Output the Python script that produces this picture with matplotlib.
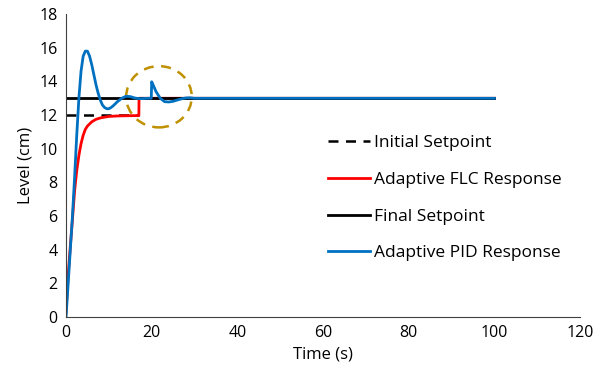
import matplotlib
matplotlib.use("Agg")
import matplotlib.pyplot as plt
from matplotlib.patches import Ellipse

plt.rcParams['font.family'] = ['Open Sans', 'DejaVu Sans']

# initial / final setpoints
init_t = [0, 17]
init_y = [12, 12]
final_t = [0, 100]
final_y = [13, 13]

# adaptive FLC response
flc_t = [0, 0.5, 1, 1.5, 2, 2.5, 3, 3.5, 4, 4.5, 5, 6, 7, 8, 9, 10, 12, 14, 16, 17, 17.05, 100]
flc_y = [0.3, 2.5, 4.2, 5.8, 7.5, 8.7, 9.6, 10.3, 10.8, 11.15, 11.35, 11.6, 11.75, 11.83, 11.88,
         11.92, 11.95, 11.96, 11.97, 11.97, 13, 13]

# adaptive PID response
pid_t = [0, 0.5, 1, 1.5, 2, 2.5, 3, 3.5, 4, 4.5, 5, 5.5, 6, 6.5, 7, 7.5, 8, 8.5, 9, 9.5, 10,
         10.5, 11, 12, 13, 14, 15, 16, 17, 18, 19, 19.9, 20, 20.5, 21, 22, 23, 24, 25, 26, 27,
         28, 29, 30, 100]
pid_y = [0, 2, 4, 6, 8.3, 10.8, 13, 14.6, 15.5, 15.8, 15.8, 15.5, 15.0, 14.4, 13.8, 13.3, 12.9,
         12.6, 12.45, 12.38, 12.38, 12.45, 12.55, 12.8, 13.0, 13.12, 13.1, 13.02, 12.98, 12.98,
         13.0, 13.0, 13.98, 13.7, 13.4, 13.0, 12.8, 12.78, 12.82, 12.9, 12.97, 13.02, 13.03,
         13.0, 13.0]

fig = plt.figure(figsize=(5.97, 3.82), dpi=100)
ax = fig.add_axes([0.1106, 0.170, 0.861, 0.793])

ax.plot(init_t, init_y, color='black', linestyle=(0, (4, 3)), linewidth=1.8, label='Initial Setpoint')
ax.plot(flc_t, flc_y, color='#FF0000', linewidth=2, label='Adaptive FLC Response')
ax.plot(final_t, final_y, color='black', linewidth=2, label='Final Setpoint')
ax.plot(pid_t, pid_y, color='#0070C0', linewidth=2, label='Adaptive PID Response')

ax.add_patch(Ellipse((21.7, 13.09), 15.3, 3.64, fill=False, edgecolor='#BF9000',
                     linestyle=(0, (4, 3)), linewidth=1.8))

ax.set_xlim(0, 120)
ax.set_ylim(0, 18)
ax.set_xticks(range(0, 121, 20))
ax.set_yticks(range(0, 19, 2))
ax.tick_params(length=0, labelsize=11.5, pad=6)
ax.spines['top'].set_visible(False)
ax.spines['right'].set_visible(False)
ax.spines['left'].set_color('#404040')
ax.spines['bottom'].set_color('#404040')
ax.set_xlabel('Time (s)', fontsize=12)
ax.set_ylabel('Level (cm)', fontsize=12)

ax.legend(loc='upper left', bbox_to_anchor=(0.48, 0.652), frameon=False, fontsize=12.5,
          labelspacing=1.18, handlelength=2.4, handletextpad=0.2)

fig.savefig('out.png', dpi=100)
